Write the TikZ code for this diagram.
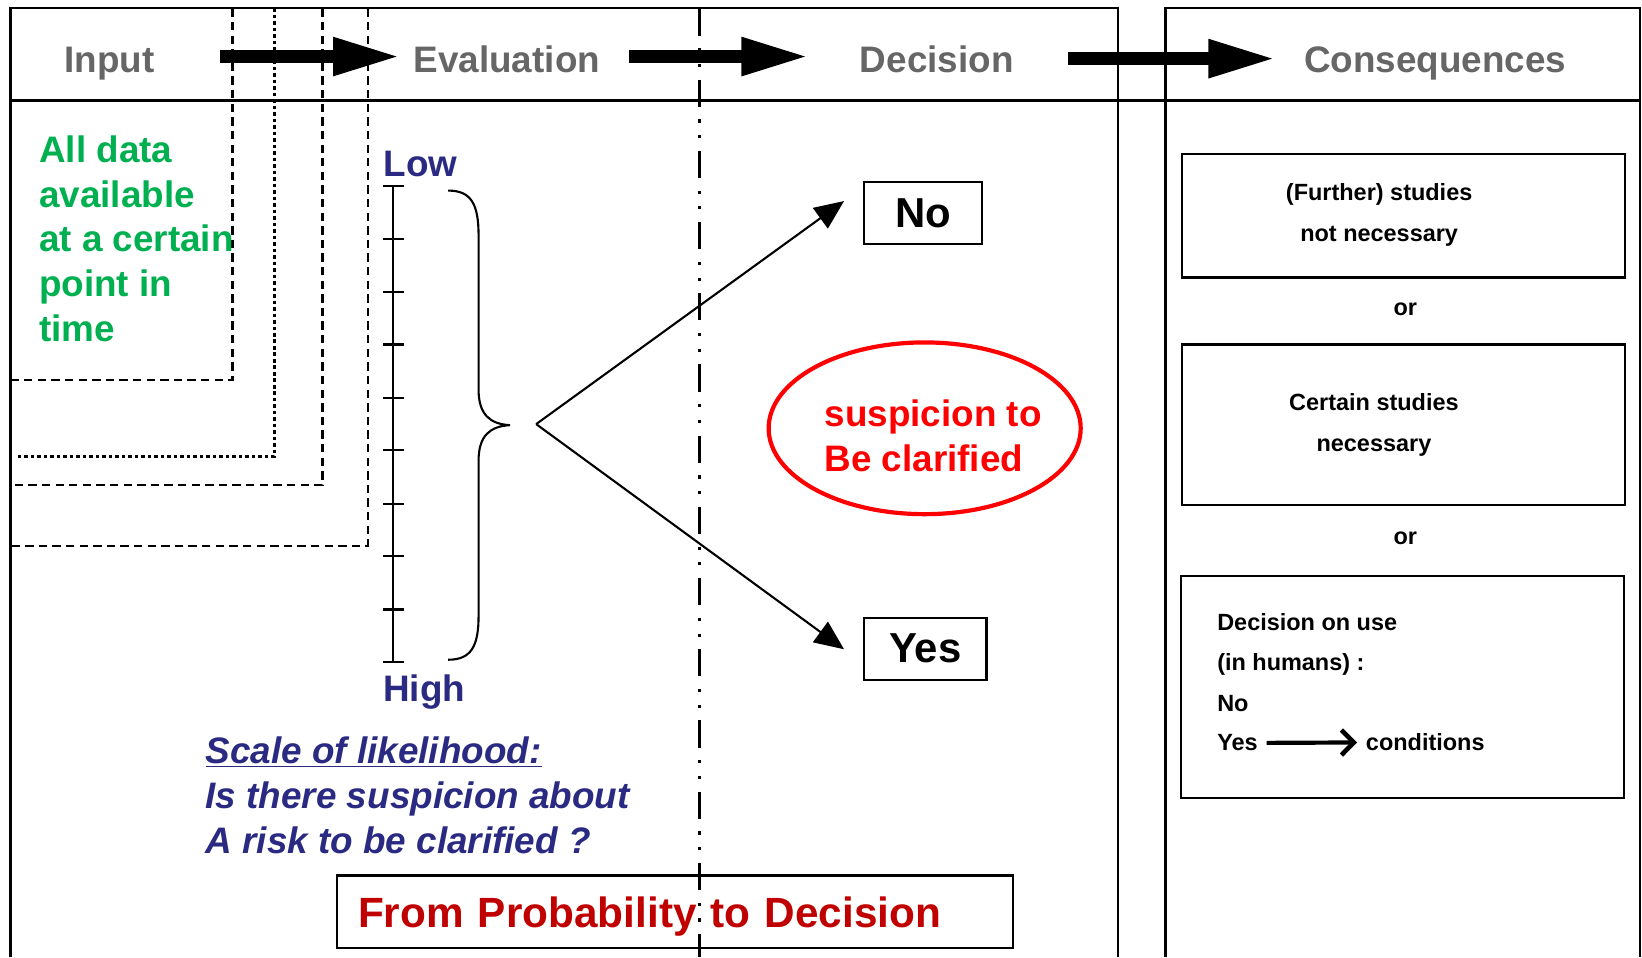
\documentclass[tikz,border=0pt]{standalone}
\usepackage{fontspec}
\setmainfont{Liberation Sans}
\usepackage{xcolor}
\usepackage{tikz}
\usetikzlibrary{positioning,arrows.meta,shapes.geometric}

\definecolor{hdrgray}{RGB}{102,102,102}
\definecolor{scalenavy}{RGB}{42,42,130}
\definecolor{datagreen}{RGB}{0,176,80}
\definecolor{darkred}{RGB}{192,0,0}

\begin{document}
\begin{tikzpicture}[x=0.5pt, y=-0.5pt,
		hdr/.style={text=hdrgray, font=\fontsize{17.6}{21}\selectfont\bfseries},
		big/.style={font=\fontsize{17.6}{21.4}\selectfont\bfseries},
		small/.style={font=\fontsize{11.2}{19.5}\selectfont\bfseries},
		frame/.style={line width=1pt},
		guide/.style={line width=1pt, dash pattern=on 4pt off 2.5pt},
		fatarrow/.style={line width=6pt, -{Triangle[length=32pt, width=17pt]}},
		thinarrow/.style={line width=1pt, -{Triangle[length=14pt, width=12pt]}},
		choice/.style={draw, line width=1pt, minimum height=29.5pt, font=\fontsize{20}{24}\selectfont\bfseries},
		cbox/.style={draw, line width=1pt, minimum width=211.5pt}]
		\useasboundingbox (0,0) rectangle (1568,914);
		\draw[frame] (10,914) -- (10,8) -- (1068,8) -- (1068,914);
		\draw[frame] (1113,914) -- (1113,8) -- (1566,8) -- (1566,914);
		\draw[frame] (10,96) -- (1566,96);
		\draw[guide] (222,8) -- (222,363) -- (10,363);
		\draw[line width=1.7pt, dash pattern=on 1.7pt off 1.4pt] (262,8) -- (262,436) -- (15,436);
		\draw[guide] (308,8) -- (308,463) -- (10,463);
		\draw[guide] (351,8) -- (351,521) -- (10,521);
		\node[hdr, anchor=base] (input) at (104.5,69) {Input};
		\node[hdr, anchor=base] (eval) at (484,69) {Evaluation};
		\node[hdr, anchor=base] (decide) at (894.5,69) {Decision};
		\node[hdr, anchor=base] (conseq) at (1370.5,69) {Consequences};
		\coordinate (inputtail) at (210,54);
		\coordinate (evaltip) at (382,54);
		\coordinate (evaltail) at (601,54);
		\coordinate (decidetip) at (772,54);
		\coordinate (decidetail) at (1020,56);
		\coordinate (conseqtip) at (1218,56);
		\draw[fatarrow] (inputtail) -- (evaltip);
		\draw[fatarrow] (evaltail) -- (decidetip);
		\draw[fatarrow] (decidetail) -- (conseqtip);
		\node[big, text=datagreen, align=left, anchor=north west, inner sep=0pt] (data) at (37,129) {All data\\available\\at a certain\\point in\\time};
		\node[big, text=scalenavy, anchor=base] (low) at (401.5,169) {Low};
		\node[big, text=scalenavy, anchor=base] (high) at (405,670) {High};
		\draw[line width=1pt] (375,178) -- (375,632);
		\draw[line width=1pt] (366,178) -- (386,178) (366,228) -- (386,228) (366,279) -- (386,279) (366,329) -- (386,329) (366,380) -- (386,380)
			(366,430) -- (386,430) (366,481) -- (386,481) (366,531) -- (386,531) (366,582) -- (386,582) (366,632) -- (386,632);
		\draw[line width=1pt] (428,182) .. controls (450,182) and (457,195) .. (457,225) -- (457,372) .. controls (457,396) and (468,405) .. (487,406)
			.. controls (468,407) and (457,416) .. (457,440) -- (457,588) .. controls (457,617) and (450,630) .. (428,630);
		\coordinate (fork) at (512,405);
		\coordinate (notip) at (806,192);
		\coordinate (yestip) at (806,620);
		\node[choice, minimum width=56.5pt] (no) at (881.5,203.5) {No};
		\node[choice, minimum width=58.5pt] (yes) at (883.5,619.5) {Yes};
		\draw[thinarrow] (fork) -- (notip);
		\draw[thinarrow] (fork) -- (yestip);
		\node[ellipse, draw=red, line width=2pt, minimum width=149pt, minimum height=82pt] (suspicion) at (883,409) {};
		\node[big, text=red, align=left] (suspiciontxt) at (891,416) {suspicion to\\Be clarified};
		\node[text=scalenavy, align=left, anchor=north west, inner sep=0pt, font=\fontsize{17.6}{21.5}\selectfont\bfseries\itshape] (likelihood) at (196,703) {\underline{Scale of likelihood:}\\Is there suspicion about\\A risk to be clarified ?};
		\node[draw, line width=1pt, minimum height=34.5pt, text width=302.5pt, text height=19pt, text depth=4.2pt, inner xsep=10pt, align=left, text=darkred, font=\fontsize{20.2}{24}\selectfont\bfseries] (motto) at (644.5,870.5) {From Probability to Decision};
		\draw[line width=1.5pt, dash pattern=on 13pt off 6pt on 1.5pt off 6pt on 1.5pt off 6pt] (668,8) -- (668,914);
		\node[cbox, minimum height=59pt] (further) at (1340,206) {};
		\node[small, align=center] (furthertxt) at (1317,205) {(Further) studies\\not necessary};
		\node[small] (or1) at (1342,295) {or};
		\node[cbox, minimum height=76.5pt] (certain) at (1340,405.5) {};
		\node[small, align=center] (certaintxt) at (1312,406) {Certain studies\\necessary};
		\node[small] (or2) at (1342,514) {or};
		\node[cbox, minimum height=106pt] (use) at (1339.5,656) {};
		\node[small, align=left, anchor=north west, inner sep=0pt] (usetxt) at (1162,585) {Decision on use\\(in humans) :\\No};
		\node[small, anchor=base west, inner xsep=4pt] (yesuse) at (1154,717) {Yes};
		\node[small, anchor=base west, inner xsep=4pt] (cond) at (1296,717) {conditions};
		\draw[line width=2pt, -{Straight Barb[length=6pt, width=12pt, line width=2.2pt]}] (yesuse.east) -- (cond.west);
	\end{tikzpicture}
\end{document}
